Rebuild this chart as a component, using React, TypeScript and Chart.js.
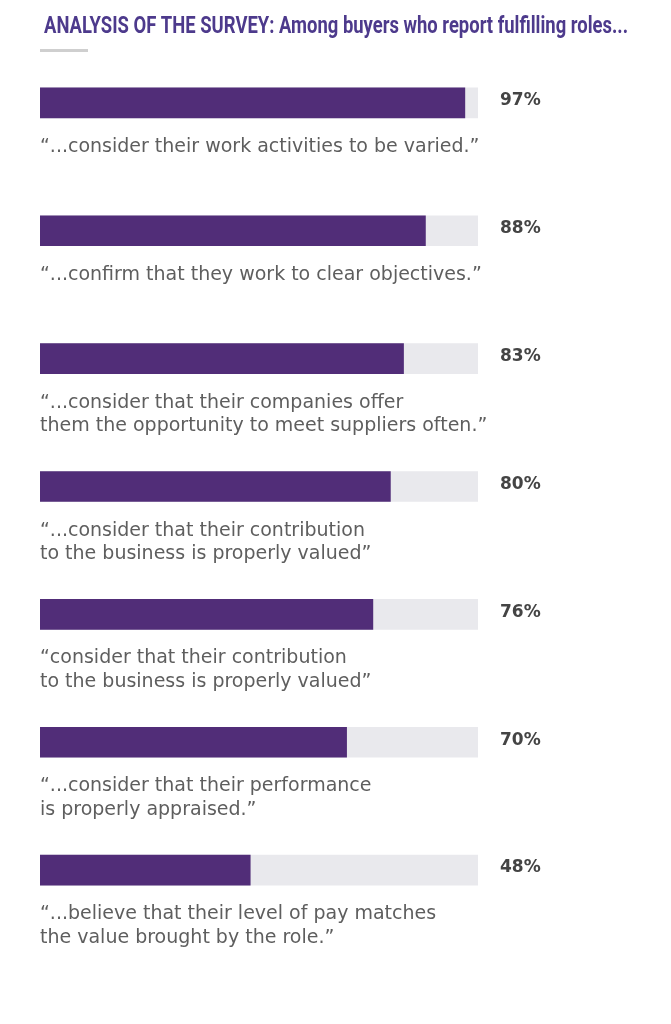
import React, { useEffect, useRef } from "react";
import { Chart, registerables } from "chart.js";
Chart.register(...registerables);

const titleText = "ANALYSIS OF THE SURVEY: Among buyers who report fulfilling roles...";
const categories = [
  "Work activities varied",
  "Clear objectives",
  "Meet suppliers often",
  "Contribution valued (a)",
  "Contribution valued (b)",
  "Performance appraised",
  "Pay matches value",
];
const values = [97, 88, 83, 80, 76, 70, 48];
const trackValues = [100, 100, 100, 100, 100, 100, 100];
const valueLabels = ["97%", "88%", "83%", "80%", "76%", "70%", "48%"];
const quoteLines: string[][] = [
  ["\u201C...consider their work activities to be varied.\u201D"],
  ["\u201C...confirm that they work to clear objectives.\u201D"],
  ["\u201C...consider that their companies offer", "them the opportunity to meet suppliers often.\u201D"],
  ["\u201C...consider that their contribution", "to the business is properly valued\u201D"],
  ["\u201Cconsider that their contribution", "to the business is properly valued\u201D"],
  ["\u201C...consider that their performance", "is properly appraised.\u201D"],
  ["\u201C...believe that their level of pay matches", "the value brought by the role.\u201D"],
];

const PURPLE = "#512d78";
const TRACK = "#e9e9ed";
const TITLE_COLOR = "#4d3a8c";
const TEXT_COLOR = "#5e5e5e";
const VALUE_COLOR = "#444444";

const textPlugin = {
  id: "textPlugin",
  afterDatasetsDraw(chart: any) {
    const ctx = chart.ctx;
    const meta = chart.getDatasetMeta(0);
    const xScale = chart.scales.x;
    const left = chart.chartArea.left;
    const trackEnd = xScale.getPixelForValue(100);
    ctx.save();
    // title (condensed look via horizontal scaling)
    ctx.fillStyle = TITLE_COLOR;
    ctx.font = 'bold 24px Roboto, sans-serif';
    ctx.textBaseline = "alphabetic";
    ctx.textAlign = "left";
    const w = ctx.measureText(titleText).width;
    const target = 584;
    ctx.save();
    ctx.translate(44, 33);
    ctx.scale(target / w, 1);
    ctx.fillText(titleText, 0, 0);
    ctx.restore();
    // underline
    ctx.fillStyle = "#cfcfcf";
    ctx.fillRect(40, 49, 48, 3);
    meta.data.forEach((bar: any, i: number) => {
      ctx.fillStyle = VALUE_COLOR;
      ctx.font = 'bold 17px "DejaVu Sans", sans-serif';
      ctx.textBaseline = "middle";
      ctx.fillText(valueLabels[i], trackEnd + 22, bar.y - 2);
      ctx.fillStyle = TEXT_COLOR;
      ctx.font = '19px "DejaVu Sans", sans-serif';
      ctx.textBaseline = "alphabetic";
      quoteLines[i].forEach((line, j) => {
        ctx.fillText(line, left, bar.y + 49 + j * 23.5);
      });
    });
    ctx.restore();
  },
};

export default function App() {
  const ref = useRef<HTMLCanvasElement | null>(null);
  useEffect(() => {
    if (!ref.current) return;
    const chart = new Chart(ref.current, {
      type: "bar",
      data: {
        labels: categories,
        datasets: [
          {
            label: "Share",
            data: values,
            backgroundColor: PURPLE,
            barThickness: 30,
            grouped: false,
            order: 0,
          },
          {
            label: "Track",
            data: trackValues,
            backgroundColor: TRACK,
            barThickness: 30,
            grouped: false,
            order: 1,
          },
        ],
      },
      options: {
        indexAxis: "y",
        responsive: false,
        animation: false,
        layout: { padding: { left: 40, right: 193, top: 39, bottom: 90 } },
        scales: {
          x: { display: false, min: 0, max: 100 },
          y: { display: false },
        },
        plugins: {
          legend: { display: false },
          tooltip: { enabled: false },
          title: { display: false },
        },
      },
      plugins: [textPlugin],
    } as any);
    return () => chart.destroy();
  }, []);
  return (
    <div style={{ position: "absolute", left: 0, top: 0, width: 671, height: 1024, background: "#fff" }}>
      <canvas ref={ref} width={671} height={1024} style={{ display: "block" }} />
    </div>
  );
}
